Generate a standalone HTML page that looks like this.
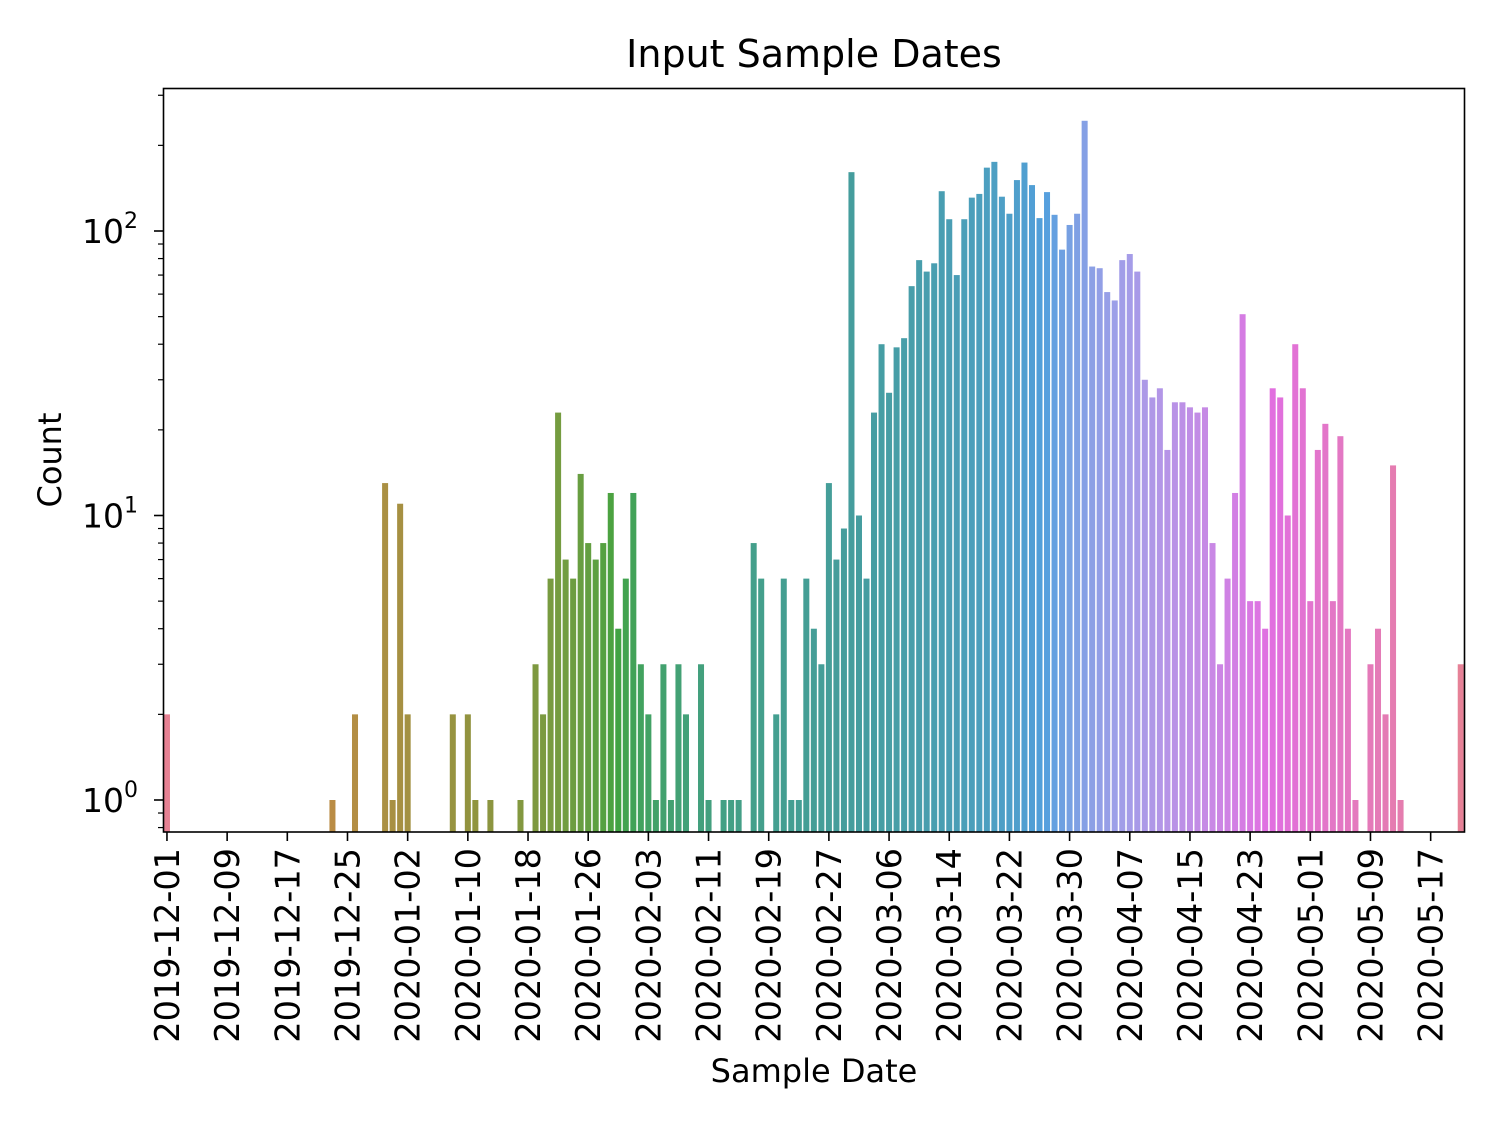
<!DOCTYPE html>
<html><head><meta charset="utf-8"><style>
html,body{margin:0;padding:0;background:#fff;}
svg text{font-family:"DejaVu Sans","Liberation Sans",sans-serif;fill:#000;}
</style></head><body>
<svg id="chart" width="1500" height="1126" xmlns="http://www.w3.org/2000/svg">
<text x="814" y="67" font-size="38" text-anchor="middle">Input Sample Dates</text>
<text x="0" y="0" font-size="32" text-anchor="middle" transform="translate(61,460) rotate(-90)">Count</text>
<text x="814" y="1082" font-size="32" text-anchor="middle">Sample Date</text>
<g id="bars"></g>
<g id="yticks"></g>
<g id="xticks"></g>
<rect x="163.5" y="88.5" width="1301" height="743.5" fill="none" stroke="#000" stroke-width="1.6"/>
</svg>
<script>
const startDate = "2019-12-01";
const nDays = 173;
const nonZeroIdx = [0,22,25,29,30,31,32,38,40,41,43,47,49,50,51,52,53,54,55,56,57,58,59,60,61,62,63,64,65,66,67,68,69,71,72,74,75,76,78,79,81,82,83,84,85,86,87,88,89,90,91,92,93,94,95,96,97,98,99,100,101,102,103,104,105,106,107,108,109,110,111,112,113,114,115,116,117,118,119,120,121,122,123,124,125,126,127,128,129,130,131,132,133,134,135,136,137,138,139,140,141,142,143,144,145,146,147,148,149,150,151,152,153,154,155,156,157,158,160,161,162,163,164,172];
const nonZeroCounts = [2,1,2,13,1,11,2,2,2,1,1,1,3,2,6,23,7,6,14,8,7,8,12,4,6,12,3,2,1,3,1,3,2,3,1,1,1,1,8,6,2,6,1,1,6,4,3,13,7,9,161,10,6,23,40,27,39,42,64,79,72,77,138,110,70,110,131,135,167,175,132,115,151,174,145,111,137,114,86,105,115,244,75,74,61,57,79,83,72,30,26,28,17,25,25,24,23,24,8,3,6,12,51,5,5,4,28,26,10,40,28,5,17,21,5,19,4,1,3,4,2,15,1,3];
const yTickValues = [1,10,100];
const yTickExps = ["0","1","2"];

const X0=163.2, DX=(1464.5-163.2)/nDays;
const Y_BOT=832, Y0=800, DEC=284.5;
function xc(i){return X0+(i+0.5)*DX;}
function yv(v){return Y0-Math.log10(v)*DEC;}

const M=[[3.240969941904521,-1.537383177570093,-0.498610760293],[-0.96924363628087,1.87596750150772,0.041555057407175],[0.055630079696993,-0.20397695888897,1.056971514242878]];
const KAPPA=903.2962962,EPS=0.0088564516,RU=0.19783000664283,RV=0.46831999493879;
function bounds(L){const s1=Math.pow(L+16,3)/1560896;const s2=s1>EPS?s1:L/KAPPA;const r=[];
for(const [m1,m2,m3] of M){for(const t of [0,1]){const top1=(284517*m1-94839*m3)*s2;const top2=(838422*m3+769860*m2+731718*m1)*L*s2-769860*t*L;const bot=(632260*m3-126452*m2)*s2+126452*t;r.push([top1/bot,top2/bot]);}}return r;}
function maxC(L,H){const h=H/360*Math.PI*2;let mn=Infinity;for(const [sl,ic] of bounds(L)){const len=ic/(Math.sin(h)-sl*Math.cos(h));if(len>=0)mn=Math.min(mn,len);}return mn;}
function husl(H,S,L){const C=maxC(L,H)/100*S;const h=H/360*Math.PI*2;const u=C*Math.cos(h),v=C*Math.sin(h);
const vu=u/(13*L)+RU,vv=v/(13*L)+RV;const Y=L<=8?L/KAPPA:Math.pow((L+16)/116,3);
const X=-(9*Y*vu)/((vu-4)*vv-vu*vv);const Z=(9*Y-15*vv*Y-vv*X)/(3*vv);
return M.map(r=>{let c=r[0]*X+r[1]*Y+r[2]*Z;c=c<=0.0031308?12.92*c:1.055*Math.pow(c,1/2.4)-0.055;return Math.min(1,Math.max(0,c));});}
function desat(rgb,p){const [r,g,b]=rgb;const mx=Math.max(r,g,b),mn=Math.min(r,g,b);const l=(mx+mn)/2;if(mx===mn)return rgb;
const d=mx-mn;let s=l<=0.5?d/(mx+mn):d/(2-mx-mn);let h;if(r===mx)h=(g-b)/d;else if(g===mx)h=2+(b-r)/d;else h=4+(r-g)/d;h=(h/6+1)%1;s*=p;
const m2=l<=0.5?l*(1+s):l+s-l*s,m1=2*l-m2;function f(hh){hh=(hh%1+1)%1;if(hh<1/6)return m1+(m2-m1)*hh*6;if(hh<0.5)return m2;if(hh<2/3)return m1+(m2-m1)*(2/3-hh)*6;return m1;}
return [f(h+1/3),f(h),f(h-1/3)];}
function color(i){let hue=(i/nDays+0.01)%1*359;const c=desat(husl(hue,0.9*99,0.65*99),0.75);return 'rgb('+c.map(x=>Math.round(x*255)).join(',')+')';}

const NS="http://www.w3.org/2000/svg";
const bars=document.getElementById('bars');
nonZeroIdx.forEach((idx,k)=>{
  const v=nonZeroCounts[k];const r=document.createElementNS(NS,'rect');
  
  
  const w=DX*0.8;const top=yv(v);
  r.setAttribute('x',xc(idx)-w/2);r.setAttribute('y',top);r.setAttribute('width',w);r.setAttribute('height',Y_BOT-top);
  r.setAttribute('fill',color(idx));bars.appendChild(r);
});

const yt=document.getElementById('yticks');
yTickValues.forEach((v,k)=>{
  const y=yv(v);
  const l=document.createElementNS(NS,'line');
  
  
  l.setAttribute('x1',154);l.setAttribute('x2',163);l.setAttribute('y1',y);l.setAttribute('y2',y);l.setAttribute('stroke','#000');l.setAttribute('stroke-width',1.6);yt.appendChild(l);
  const t=document.createElementNS(NS,'text');
  
  
  t.setAttribute('x',82);t.setAttribute('y',y+12);t.setAttribute('font-size',33);
  t.innerHTML='10<tspan font-size="22" dy="-15">'+yTickExps[k]+'</tspan>';yt.appendChild(t);
});
for(let e=-1;e<=2;e++){for(let m=2;m<=9;m++){const v=m*Math.pow(10,e);const y=yv(v);if(y>Y_BOT||y<88)continue;
  const l=document.createElementNS(NS,'line');
  
  
  l.setAttribute('x1',158);l.setAttribute('x2',163);l.setAttribute('y1',y);l.setAttribute('y2',y);l.setAttribute('stroke','#000');l.setAttribute('stroke-width',1.2);yt.appendChild(l);}}

const xt=document.getElementById('xticks');
const d0=new Date(startDate+"T00:00:00Z");
for(let i=0;i<nDays;i+=8){
  const x=xc(i);
  const l=document.createElementNS(NS,'line');
  
  
  l.setAttribute('x1',x);l.setAttribute('x2',x);l.setAttribute('y1',832);l.setAttribute('y2',841);l.setAttribute('stroke','#000');l.setAttribute('stroke-width',1.6);xt.appendChild(l);
  const d=new Date(d0.getTime()+i*86400000);const lab=d.toISOString().slice(0,10);
  const t=document.createElementNS(NS,'text');
  
  
  t.setAttribute('font-size',33.5);t.setAttribute('text-anchor','end');
  t.setAttribute('transform','translate('+(x+12)+',848) rotate(-90)');
  t.textContent=lab;xt.appendChild(t);
}
</script>
</body></html>
